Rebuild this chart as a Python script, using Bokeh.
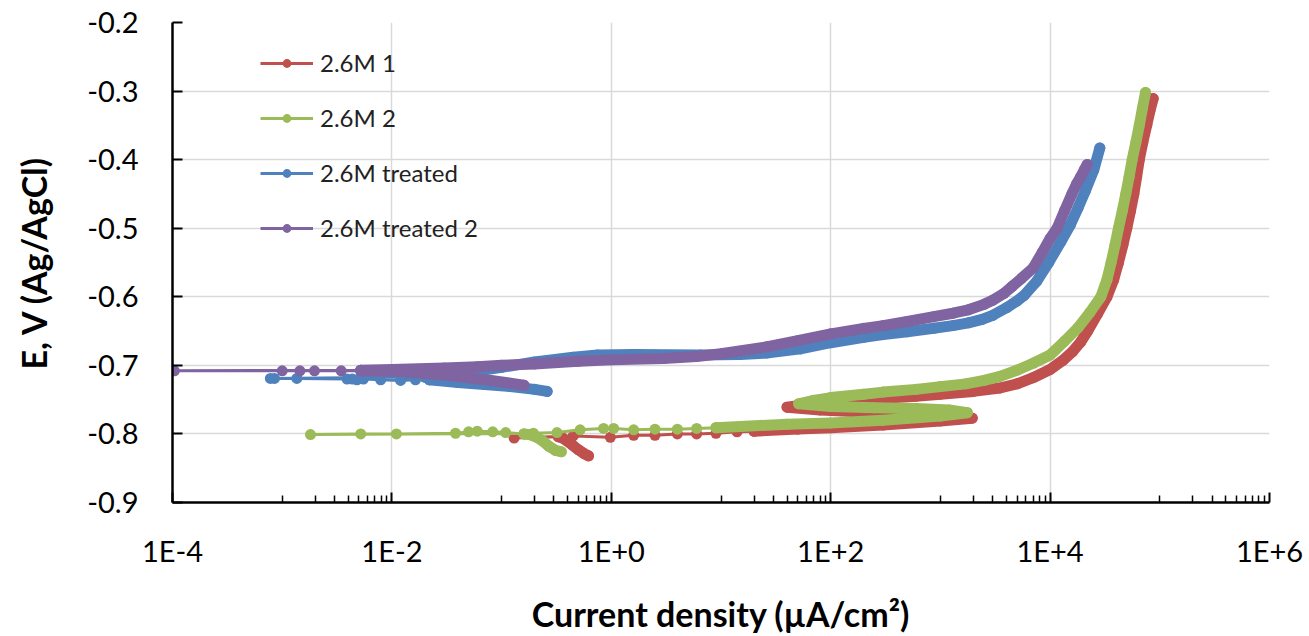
from bokeh.plotting import figure
from bokeh.models import (FixedTicker, CustomJSTickFormatter, Legend, LegendItem, Range1d)
from bokeh.embed import file_html
from bokeh.resources import INLINE

# ---------------- data (current density in uA/cm2, potential in V) ----------------
# 2.6M 1 (red)
red_dip_i = [0.62, 0.57, 0.50, 0.44, 0.40, 0.36, 0.33]
red_dip_e = [-0.832, -0.829, -0.823, -0.816, -0.811, -0.806, -0.804]
red_sparse_i = [0.33, 0.13, 0.45, 0.98, 1.6, 2.5, 4.0, 6.0, 9.0, 14, 20]
red_sparse_e = [-0.804, -0.806, -0.803, -0.805, -0.802, -0.802, -0.800, -0.800, -0.799, -0.797, -0.796]
red_band_i = [20, 50, 100, 300, 1000, 1950, 1500, 1000, 500, 200, 80, 40, 60, 100, 200, 300,
              600, 1000, 2000, 3500, 5000, 7000, 1.0e4, 1.3e4, 1.6e4, 1.9e4, 2.2e4, 2.7e4,
              3.3e4, 3.8e4, 4.2e4, 4.6e4, 5.0e4, 5.4e4, 5.8e4, 6.15e4, 6.5e4, 7.0e4, 7.6e4,
              8.1e4, 8.7e4]
red_band_e = [-0.796, -0.793, -0.791, -0.787, -0.781, -0.777, -0.773, -0.772, -0.770, -0.768,
              -0.765, -0.761, -0.757, -0.754, -0.750, -0.748, -0.745, -0.742, -0.738, -0.733,
              -0.727, -0.718, -0.706, -0.693, -0.680, -0.666, -0.650, -0.625, -0.600, -0.575,
              -0.550, -0.525, -0.500, -0.475, -0.450, -0.425, -0.400, -0.375, -0.350, -0.330,
              -0.311]

# 2.6M 2 (green)
green_dip_i = [0.35, 0.31, 0.27, 0.24, 0.21, 0.18, 0.16]
green_dip_e = [-0.826, -0.824, -0.818, -0.811, -0.805, -0.801, -0.800]
green_sparse_i = [0.16, 0.109, 0.083, 0.060, 0.050, 0.038, 0.011, 0.0052, 0.00181, 0.195,
                  0.32, 0.52, 0.85, 1.05, 1.6, 2.5, 4.0, 6.0, 9.0]
green_sparse_e = [-0.800, -0.798, -0.797, -0.796, -0.797, -0.799, -0.800, -0.800, -0.801, -0.799,
                  -0.798, -0.794, -0.792, -0.792, -0.794, -0.793, -0.793, -0.792, -0.791]
green_band_i = [9, 15, 40, 100, 300, 1000, 1760, 1200, 600, 250, 100, 51, 70, 100, 200, 300,
                600, 1000, 1700, 2500, 3500, 5000, 7000, 1.0e4, 1.35e4, 1.8e4, 2.3e4, 2.9e4,
                3.3e4, 3.6e4, 3.9e4, 4.2e4, 4.55e4, 4.9e4, 5.25e4, 5.6e4, 6.05e4, 6.5e4,
                6.95e4, 7.4e4]
green_band_e = [-0.791, -0.789, -0.786, -0.784, -0.780, -0.774, -0.769, -0.765, -0.763, -0.762,
                -0.760, -0.756, -0.751, -0.747, -0.742, -0.739, -0.735, -0.731, -0.727, -0.722,
                -0.716, -0.707, -0.697, -0.685, -0.665, -0.645, -0.623, -0.600, -0.575, -0.550,
                -0.525, -0.500, -0.475, -0.450, -0.425, -0.400, -0.375, -0.350, -0.325, -0.302]

# 2.6M treated (blue)
blue_cath_i = [0.26, 0.20, 0.12, 0.07, 0.04, 0.022]
blue_cath_e = [-0.738, -0.735, -0.731, -0.728, -0.725, -0.721]
blue_sparse_i = [0.022, 0.0164, 0.012, 0.0079, 0.0055, 0.0048, 0.00435, 0.0039, 0.00136,
                 0.00085, 0.00078, 0.02]
blue_sparse_e = [-0.721, -0.721, -0.722, -0.721, -0.720, -0.721, -0.720, -0.720, -0.719,
                 -0.719, -0.719, -0.717]
blue_band_i = [0.02, 0.035, 0.05, 0.1, 0.2, 0.45, 0.75, 1.6, 6.5, 15, 26, 53, 100, 200, 300,
               500, 870, 1300, 1800, 2400, 3000, 4000, 5000, 5800, 7500, 9700, 1.25e4, 1.53e4,
               1.8e4, 2.1e4, 2.5e4, 2.84e4]
blue_band_e = [-0.717, -0.713, -0.710, -0.703, -0.695, -0.688, -0.685, -0.684, -0.685, -0.684,
               -0.682, -0.676, -0.667, -0.659, -0.655, -0.651, -0.646, -0.642, -0.638, -0.633,
               -0.627, -0.616, -0.606, -0.598, -0.578, -0.550, -0.520, -0.495, -0.470, -0.445,
               -0.415, -0.383]

# 2.6M treated 2 (purple)
purple_cath_i = [0.16, 0.12, 0.08, 0.05, 0.03, 0.02, 0.012, 0.0052]
purple_cath_e = [-0.729, -0.726, -0.722, -0.718, -0.714, -0.712, -0.709, -0.708]
purple_sparse_i = [0.0052, 0.00345, 0.00197, 0.00145, 0.0010, 0.000104, 0.0052]
purple_sparse_e = [-0.708, -0.708, -0.708, -0.708, -0.708, -0.708, -0.707]
purple_band_i = [0.0052, 0.01, 0.03, 0.06, 0.1, 0.2, 0.5, 1.0, 3.0, 6.0, 10, 26, 50, 100, 200,
                 300, 500, 870, 1300, 1800, 2500, 3000, 3800, 4500, 5500, 7000, 8500, 1.0e4,
                 1.16e4, 1.35e4, 1.58e4, 1.75e4, 1.9e4, 2.05e4, 2.18e4]
purple_band_e = [-0.707, -0.706, -0.704, -0.702, -0.700, -0.698, -0.694, -0.692, -0.690,
                 -0.687, -0.683, -0.673, -0.664, -0.654, -0.646, -0.642, -0.636, -0.629,
                 -0.624, -0.619, -0.611, -0.605, -0.595, -0.585, -0.573, -0.558, -0.535,
                 -0.515, -0.500, -0.475, -0.450, -0.435, -0.425, -0.415, -0.407]

series_names = ["2.6M 1", "2.6M 2", "2.6M treated", "2.6M treated 2"]

x_major = [1e-4, 1e-2, 1e0, 1e2, 1e4, 1e6]
y_major = [-0.9, -0.8, -0.7, -0.6, -0.5, -0.4, -0.3, -0.2]

# ---------------- figure ----------------
FONT = "Lato"
p = figure(width=1309, height=636, x_axis_type="log",
           x_range=Range1d(1e-4, 1e6), y_range=Range1d(-0.9, -0.2),
           output_backend="svg", toolbar_location=None,
           min_border_left=172, min_border_right=40, min_border_top=22, min_border_bottom=132)
p.outline_line_color = None
p.background_fill_color = "white"
p.border_fill_color = "white"

minor = [m * 10 * k for m in x_major[:-1] for k in range(1, 10)]
p.xaxis.ticker = FixedTicker(ticks=x_major, minor_ticks=minor)
p.yaxis.ticker = FixedTicker(ticks=y_major)
p.xaxis.formatter = CustomJSTickFormatter(code="""
const e = Math.round(Math.log10(tick));
return "1E" + (e >= 0 ? "+" : "") + e;
""")
p.yaxis.formatter = CustomJSTickFormatter(code="return tick.toFixed(1);")

for ax in (p.xaxis[0], p.yaxis[0]):
    ax.axis_line_color = "black"
    ax.axis_line_width = 2.5
    ax.major_tick_line_color = "black"
    ax.major_tick_line_width = 2
    ax.major_tick_in = 10
    ax.major_tick_out = 0
    ax.major_label_text_font = FONT
    ax.major_label_text_font_size = "29px"
    ax.major_label_text_color = "black"
    ax.axis_label_text_font = FONT
    ax.axis_label_text_font_style = "bold"
    ax.axis_label_text_font_size = "34px"
    ax.axis_label_text_color = "black"

p.xaxis.minor_tick_line_color = "black"
p.xaxis.minor_tick_line_width = 1.5
p.xaxis.minor_tick_in = 7
p.xaxis.minor_tick_out = 0
p.yaxis.minor_tick_line_color = None
p.yaxis.major_label_standoff = 34
p.xaxis.major_label_standoff = 30

p.xaxis.axis_label = "Current density (µA/cm²)"
p.xaxis.axis_label_standoff = 22
p.yaxis.axis_label = "E, V (Ag/AgCl)"
p.yaxis.axis_label_standoff = 30

p.xgrid.ticker = FixedTicker(ticks=x_major)
p.ygrid.ticker = FixedTicker(ticks=y_major)
for g in (p.xgrid[0], p.ygrid[0]):
    g.grid_line_color = "#d9d9d9"
    g.grid_line_width = 1.5

colors = ["#C0504D", "#9BBB59", "#4F81BD", "#8064A2"]
groups = [
    ([(red_dip_i, red_dip_e), (red_band_i, red_band_e)], (red_sparse_i, red_sparse_e)),
    ([(green_dip_i, green_dip_e), (green_band_i, green_band_e)], (green_sparse_i, green_sparse_e)),
    ([(blue_cath_i, blue_cath_e), (blue_band_i, blue_band_e)], (blue_sparse_i, blue_sparse_e)),
    ([(purple_cath_i, purple_cath_e), (purple_band_i, purple_band_e)], (purple_sparse_i, purple_sparse_e)),
]

items = []
for name, color, (bands, sparse) in zip(series_names, colors, groups):
    # dense parts of the trace, where overlapping markers form a solid band
    for bi, be in bands:
        p.line(bi, be, line_color=color, line_width=11, line_cap="round", line_join="round")
    all_i = list(bands[0][0]) + list(sparse[0]) + list(bands[1][0])
    all_e = list(bands[0][1]) + list(sparse[1]) + list(bands[1][1])
    ln = p.line(all_i, all_e, line_color=color, line_width=3)
    sc = p.scatter(all_i, all_e, marker="circle", size=11, fill_color=color, line_color=None)
    items.append(LegendItem(label=name, renderers=[ln, sc]))

legend = Legend(items=items, location=(88, 260), orientation="vertical",
                label_text_font=FONT, label_text_font_size="24px", label_text_color="#222222",
                glyph_width=53, glyph_height=22, label_height=22, label_standoff=7,
                spacing=26, padding=0, margin=0,
                border_line_color=None, background_fill_alpha=0)
p.add_layout(legend)

open("out.html", "w").write(file_html(p, INLINE))
